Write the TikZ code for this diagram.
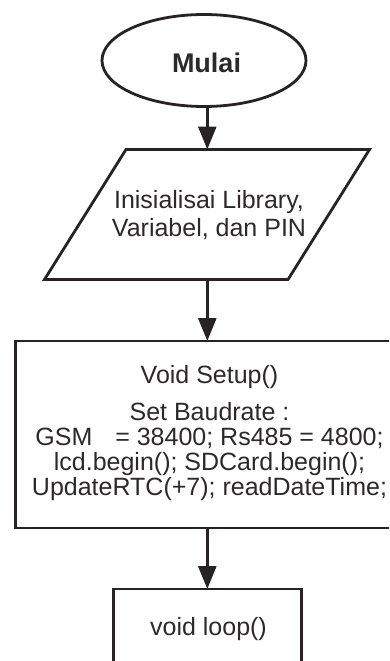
\documentclass[tikz,border=0pt]{standalone}
\usepackage{fontspec}
\setmainfont{Liberation Sans}
\usetikzlibrary{arrows.meta,shapes.geometric}
\definecolor{ink}{RGB}{40,34,35}
\definecolor{txt}{RGB}{45,40,41}
\tikzset{
  shapeline/.style={draw=ink, line width=2.8pt},
  arr/.style={draw=ink, line width=2.8pt, -{Triangle[width=18pt,length=23pt]}},
  lbl/.style={inner sep=0pt, anchor=base, text=txt, font=\fontsize{25}{28}\selectfont},
}
\begin{document}
\begin{tikzpicture}[x=1pt,y=-1pt]
\useasboundingbox (0,0) rectangle (389,661);
\clip (0,0) rectangle (389,661);
% start
\node[shapeline, ellipse, minimum width=204pt, minimum height=92pt, inner sep=0pt] (mulai) at (204,60.5) {};
\node[lbl, font=\fontsize{27}{30}\selectfont\bfseries] (mulaitxt) at (206.5,72) {Mulai};
% input/output parallelogram
\draw[shapeline, line join=miter] (126,149.5) -- (369.5,149.5) -- (288,279.5) -- (44.5,279.5) -- cycle;
\coordinate (ptop) at (207.3,149.5);
\coordinate (pbot) at (207.3,279.5);
\node[lbl] (init) at (209,208) {\begin{tabular}[t]{@{}c@{}}Inisialisai Library,\\Variabel, dan PIN\end{tabular}};
% setup box
\draw[shapeline] (400,341) -- (15.5,341) -- (15.5,528) -- (400,528);
\coordinate (stop) at (207.3,341);
\coordinate (sbot) at (207.3,528);
\node[lbl, font=\fontsize{25}{23.7}\selectfont] (setup) at (209.5,383) {\begin{tabular}[t]{@{}c@{}}Void Setup()\\[12.3pt]Set Baudrate :\\GSM\hspace{16pt} = 38400; Rs485 = 4800;\\lcd.begin(); SDCard.begin();\\UpdateRTC(+7); readDateTime;\end{tabular}};
% loop box
\draw[shapeline] (113.5,680) -- (113.5,589) -- (301.5,589) -- (301.5,680);
\coordinate (ltop) at (207.3,589);
\node[lbl] (loop) at (208.5,635) {void loop()};
% connectors
\draw[arr] (mulai.south -| ptop) -- (ptop);
\draw[arr] (pbot) -- (stop);
\draw[arr] (sbot) -- (ltop);
\end{tikzpicture}
\end{document}
